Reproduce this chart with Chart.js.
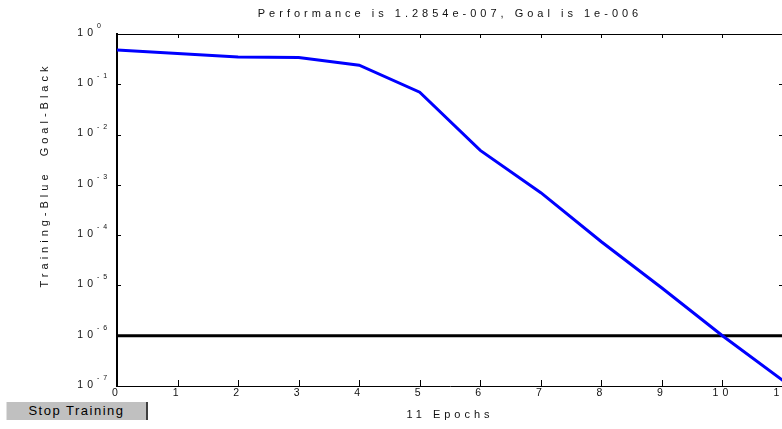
<!DOCTYPE html>
<html>
<head>
<meta charset="utf-8">
<script src="https://cdn.jsdelivr.net/npm/chart.js@4/dist/chart.umd.min.js"></script>
<style>
  html, body { margin: 0; padding: 0; background: #fff; overflow: hidden; }
  #wrap { position: relative; width: 790px; height: 429px; }
  #stop {
    position: absolute; left: 6px; top: 402px; width: 139px; height: 18px;
    background: #c0c0c0; border-left: 1px solid #e0e0e0; border-right: 2px solid #404040;
    font: 13px "Liberation Sans", Arial, sans-serif; letter-spacing: 1.5px;
    color: #000; text-align: center; line-height: 18px;
  }
</style>
</head>
<body>
<div id="wrap">
  <canvas id="perfChart" width="790" height="429"></canvas>
  <div id="stop">Stop Training</div>
</div>
<script>
// Training record
const epochs = [0, 1, 2, 3, 4, 5, 6, 7, 8, 9, 10, 11];
const performance = [0.48, 0.41, 0.347, 0.34, 0.24, 0.0695, 0.00484, 7.0e-4, 7.4e-5, 8.9e-6, 1.0e-6, 1.2854e-7];
const goal = 1e-6;
const goalEpochs = [0, 11];
const yTicks = [1e-7, 1e-6, 1e-5, 1e-4, 1e-3, 1e-2, 1e-1, 1e0];

const titleText = "Performance is 1.2854e-007, Goal is 1e-006";
const yTitle = "Training-Blue  Goal-Black";
const xTitle = epochs.length - 1 + " Epochs";

const FONT = '"Liberation Sans", Arial, sans-serif';
const INK = "#111";

// MATLAB-ish axes: inward ticks, top border, 10^n labels, y label
const matlabAxes = {
  id: "matlabAxes",
  beforeDraw(chart) {
    chart.ctx.letterSpacing = "4px";
  },
  afterDraw(chart) {
    const { ctx, chartArea: a, scales: { x, y } } = chart;
    ctx.save();
    ctx.strokeStyle = "#000";
    ctx.lineWidth = 1;
    ctx.beginPath();
    ctx.moveTo(a.left, a.top + 0.5);
    ctx.lineTo(a.right, a.top + 0.5);
    x.ticks.forEach(t => {
      const px = Math.round(x.getPixelForValue(t.value)) + 0.5;
      ctx.moveTo(px, a.bottom);
      ctx.lineTo(px, a.bottom - 6);
      ctx.moveTo(px, a.top);
      ctx.lineTo(px, a.top + 4);
    });
    y.ticks.forEach(t => {
      const py = Math.round(y.getPixelForValue(t.value)) + 0.5;
      ctx.moveTo(a.left, py);
      ctx.lineTo(a.left + 4, py);
      ctx.moveTo(a.right, py);
      ctx.lineTo(a.right - 4, py);
    });
    ctx.stroke();

    ctx.fillStyle = INK;
    ctx.letterSpacing = "4px";
    y.ticks.forEach(t => {
      const py = y.getPixelForValue(t.value);
      ctx.font = "10.5px " + FONT;
      ctx.textAlign = "right";
      ctx.textBaseline = "middle";
      ctx.fillText("10", a.left - 20, py - 1);
      ctx.font = "7px " + FONT;
      ctx.textAlign = "left";
      ctx.fillText(String(Math.round(Math.log10(t.value))), a.left - 20, py - 8);
    });

    ctx.font = "11px " + FONT;
    ctx.textAlign = "center";
    ctx.textBaseline = "middle";
    ctx.translate(45, 175);
    ctx.rotate(-Math.PI / 2);
    ctx.fillText(yTitle, 0, 0);
    ctx.restore();
  }
};

new Chart(document.getElementById("perfChart"), {
  type: "line",
  data: {
    datasets: [{
      label: "Training",
      data: epochs.map((e, i) => ({ x: e, y: performance[i] })),
      borderColor: "#0000ff",
      borderWidth: 3,
      pointRadius: 0,
      tension: 0,
      order: 0
    }, {
      label: "Goal",
      data: goalEpochs.map(e => ({ x: e, y: goal })),
      borderColor: "#000",
      borderWidth: 3,
      pointRadius: 0,
      order: 1
    }]
  },
  options: {
    responsive: false,
    devicePixelRatio: 1,
    animation: false,
    layout: { padding: { left: 0, right: 7, top: 0, bottom: 0 } },
    plugins: {
      legend: { display: false },
      tooltip: { enabled: false },
      title: {
        display: true,
        text: titleText,
        fullSize: false,
        color: INK,
        font: { family: FONT, size: 11, weight: "normal", lineHeight: 1.2 },
        padding: { top: 7.4, bottom: 13.4 }
      }
    },
    scales: {
      x: {
        type: "linear",
        min: 0,
        max: 11,
        ticks: { stepSize: 1, color: INK, padding: 1, font: { family: FONT, size: 10.5 }, maxRotation: 0 },
        grid: { display: false, drawTicks: false },
        border: { display: true, color: "#000", width: 1 },
        title: { display: true, text: xTitle, color: INK, font: { family: FONT, size: 11 }, padding: { top: 0, bottom: 7.4 } },
        afterFit(scale) { scale.height = 43; }
      },
      y: {
        type: "logarithmic",
        min: 1e-7,
        max: 1,
        ticks: { display: false },
        grid: { display: false, drawTicks: false },
        border: { display: true, color: "#000", width: 2 },
        afterBuildTicks(scale) { scale.ticks = yTicks.map(v => ({ value: v })); },
        afterFit(scale) { scale.width = 117; }
      }
    }
  },
  plugins: [matlabAxes]
});
</script>
</body>
</html>
